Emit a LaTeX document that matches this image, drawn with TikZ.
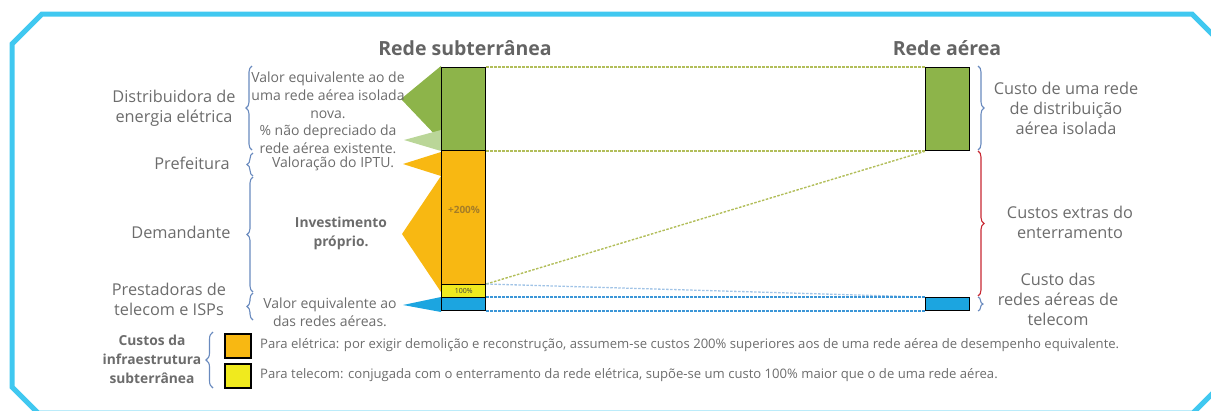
\documentclass[tikz,border=0pt]{standalone}
\usepackage{fontspec}
\setmainfont{Open Sans}
\usetikzlibrary{decorations.pathreplacing}
\definecolor{cgreen}{RGB}{141,180,74}
\definecolor{clgreen}{RGB}{186,214,152}
\definecolor{corange}{RGB}{248,184,18}
\definecolor{cyellow}{RGB}{240,234,30}
\definecolor{cblue}{RGB}{28,165,224}
\definecolor{cframe}{RGB}{64,200,240}
\definecolor{cbrace}{RGB}{105,138,190}
\definecolor{cred}{RGB}{200,40,50}
\definecolor{txtgray}{RGB}{108,108,108}
\definecolor{titlegray}{RGB}{100,100,100}
\definecolor{colive}{RGB}{178,190,90}
\definecolor{cdblue}{RGB}{60,150,215}
\definecolor{clblue}{RGB}{160,195,230}
\definecolor{c200}{RGB}{165,125,40}
\begin{document}
\begin{tikzpicture}[x=1pt,y=-1pt,
  titlelbl/.style={font=\bfseries\fontsize{19.5}{22}\selectfont, text=titlegray},
  biglbl/.style={font=\fontsize{16.3}{20}\selectfont, text=txtgray, align=center, inner sep=0},
  midlbl/.style={font=\fontsize{14}{18}\selectfont, text=txtgray, align=center, inner sep=0},
  boldlbl/.style={font=\bfseries\fontsize{13.8}{19}\selectfont, text=txtgray, align=center, inner sep=0},
  leglbl/.style={font=\fontsize{13.1}{15}\selectfont, text=txtgray, anchor=west, inner sep=0},
  barbox/.style={draw=black, line width=1.3pt, minimum width=44pt, inner sep=0, anchor=north west},
  legbox/.style={draw=black, line width=1.5pt, minimum width=26pt, minimum height=24pt, inner sep=0, anchor=north west},
  bracel/.style={decorate, decoration={brace, amplitude=6pt, aspect=0.5}, draw=cbrace, line width=1.1pt},
  oliveline/.style={draw=colive, line width=1.4pt, dash pattern=on 2.5pt off 1.5pt},
  blueline/.style={draw=cdblue, line width=1.3pt, dash pattern=on 2.5pt off 1.5pt},
  lblueline/.style={draw=clblue, line width=1.3pt, dash pattern=on 2.5pt off 1.5pt},
]
\useasboundingbox (0,0) rectangle (1211,410);
\clip (0,0) rectangle (1211,410);
% frame
\draw[cframe, line width=5pt, line join=miter] (12,44) -- (42,14) -- (1192,14) -- (1217,39) -- (1217,389) -- (1193,413) -- (38,413) -- (12,387) -- cycle;

% titles
\node[titlelbl] (t1) at (465,48) {Rede subterrânea};
\node[titlelbl] (t2) at (947,48) {Rede aérea};

% wedges
\fill[cgreen] (441,66) -- (401,99) -- (441,141) -- cycle;
\fill[clgreen] (441,130) -- (404,140) -- (441,151) -- cycle;
\fill[corange] (441,152) -- (403,164) -- (441,176) -- cycle;
\fill[corange] (441,176) -- (402,234) -- (441,292) -- cycle;
\fill[cblue] (441,297) -- (403,305) -- (441,312) -- cycle;

% bars
\node[barbox, fill=cgreen, minimum height=83pt] (lg) at (441,67) {};
\node[barbox, fill=corange, minimum height=134pt] (lo) at (441,150) {};
\node[barbox, fill=cyellow, minimum height=13pt] (ly) at (441,284) {};
\node[barbox, fill=cblue, minimum height=13pt] (lb) at (441,297) {};
\node[barbox, fill=cgreen, minimum height=83pt] (rg) at (925,67) {};
\node[barbox, fill=cblue, minimum height=13pt] (rb) at (925,297) {};

% dashed links
\draw[oliveline] (lg.north east) -- (rg.north west);
\draw[oliveline] ([yshift=0.3pt]lg.south east) -- ([yshift=0.3pt]rg.south west);
\draw[oliveline] (ly.north east) -- (rg.south west);
\draw[lblueline] (ly.north east) -- (rb.north west);
\draw[blueline] (lb.north east) -- (rb.north west);
\draw[blueline] ([yshift=0.3pt]lb.south east) -- ([yshift=0.3pt]rb.south west);

\node[font=\bfseries\fontsize{10}{11}\selectfont, text=c200, inner sep=0] (p200) at (464,210) {+200\%};
\node[font=\fontsize{7}{8}\selectfont, text=black!75, inner sep=0] (p100) at (ly.center) {100\%};

% left labels
\node[biglbl] (dist) at (174,108) {Distribuidora de\\energia elétrica};
\node[biglbl] (pref) at (192,163) {Prefeitura};
\node[biglbl] (dem) at (181,232) {Demandante};
\node[biglbl] (prest) at (169,299) {Prestadoras de\\telecom e ISPs};

% left braces
\draw[bracel] (252,150) -- (252,66);
\draw[bracel] (253,176) -- (253,153);
\draw[bracel] (253,292) -- (253,177);
\draw[bracel] (253,320) -- (253,293);

% middle labels
\node[midlbl] (v1) at (328,95) {Valor equivalente ao de\\uma rede aérea isolada\\nova.};
\node[midlbl] (v2) at (328,139) {\% não depreciado da\\rede aérea existente.};
\node[midlbl] (v3) at (333,164) {Valoração do IPTU.};
\node[boldlbl] (v4) at (341,233) {Investimento\\próprio.};
\node[midlbl] (v5) at (330,312) {Valor equivalente ao\\das redes aéreas.};

% right braces
\draw[bracel] (978,66) -- (978,150);
\draw[bracel, draw=cred] (978,151) -- (978,296);
\draw[bracel, decoration={brace, amplitude=5pt}] (978,297) -- (978,311);

% right labels
\node[biglbl] (r1) at (1066,108) {Custo de uma rede\\de distribuição\\aérea isolada};
\node[biglbl] (r2) at (1070,222) {Custos extras do\\enterramento};
\node[biglbl] (r3) at (1058,299) {Custo das\\redes aéreas de\\telecom};

% legend
\node[boldlbl] (leg) at (152,359) {Custos da\\infraestrutura\\subterrânea};
\draw[bracel, decoration={brace, amplitude=7pt}] (213,388) -- (213,332);
\node[legbox, fill=corange] (lo2) at (224,333) {};
\node[legbox, fill=cyellow] (ly2) at (224,363) {};
\node[leglbl] (l1) at (260,345) {Para elétrica: por exigir demolição e reconstrução, assumem-se custos 200\% superiores aos de uma rede aérea de desempenho equivalente.};
\node[leglbl] (l2) at (260,375) {Para telecom: conjugada com o enterramento da rede elétrica, supõe-se um custo 100\% maior que o de uma rede aérea.};
\end{tikzpicture}
\end{document}
